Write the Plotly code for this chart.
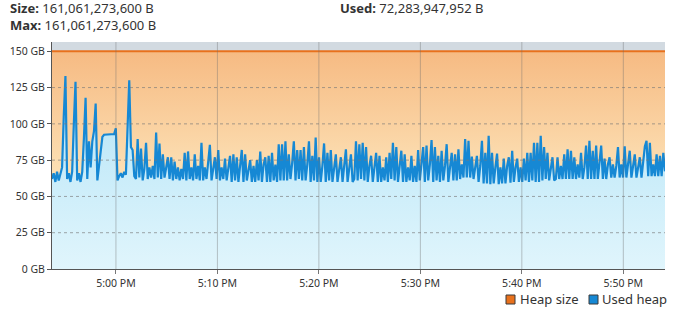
import pandas as pd
import plotly.graph_objects as go

# ---------------- data ----------------
SAMPLE_START = "2024-01-01 16:53:42"
SAMPLE_STEP_S = 9.93

used_heap_gb = [
    62, 66, 60, 67, 61, 66, 70, 105, 133, 62,
    66, 60, 67, 100, 129, 61, 66, 60, 67, 90,
    118, 62, 88, 70, 88, 95, 114, 61, 72, 84,
    91, 92.5, 92.5, 92.5, 92.6, 92.8, 93, 93, 97, 61,
    64, 66, 63, 67, 65, 105, 130, 84, 82, 64,
    62, 89.5, 63, 83, 61, 69, 87, 62, 70, 63,
    71, 62, 94, 63, 86.5, 62, 79, 63, 70, 77,
    62, 77, 61, 74, 62, 70, 61, 69, 62, 80,
    61, 81, 62, 70, 61, 79, 62, 71, 61, 87,
    61, 70, 62, 72, 85.6, 61, 70, 77, 62, 82,
    61, 70, 62, 76, 61, 71, 78, 60, 79, 61,
    77, 60, 71, 82, 60, 79, 61, 70, 75, 60,
    71, 60, 75, 61, 81, 60, 72, 77, 60, 78,
    60, 80, 61, 72, 60, 86, 61, 86, 61, 88,
    61, 79, 62, 73, 88, 61, 82, 62, 82, 61,
    84, 61, 72, 88, 60, 78, 61, 90.6, 60, 77,
    60, 71, 86.5, 60, 80, 61, 82, 60, 71, 79,
    60, 70, 77, 60, 72, 82.5, 60, 71, 79, 60,
    62, 88, 61, 86, 62, 87, 61, 84, 60, 71,
    78, 60, 71, 80, 60, 78, 60, 70, 61, 77,
    60, 80, 62, 87, 61, 84, 60, 72, 81.5, 60,
    79, 60, 70, 61, 78, 60, 71, 60, 82, 61,
    72, 84, 60, 85, 61, 72, 88.8, 60, 84, 61,
    78, 60, 81.5, 61, 71, 86, 60, 72, 80, 61,
    79, 61, 82.5, 62, 72, 63, 89.5, 63, 88.4, 63,
    77.5, 62, 72, 78, 60, 71, 88.4, 59, 80, 59,
    91.8, 58.5, 80, 59, 70, 79.5, 58.5, 70, 59, 76,
    59, 71, 77, 59.5, 81.5, 60, 70, 76, 60, 70,
    60, 76, 61, 80, 60, 80, 61, 87, 60, 87,
    60, 91.8, 61, 84, 62, 80, 61, 71, 77, 61,
    62, 77, 62, 71, 62, 79, 62, 82.5, 62, 81.5,
    62, 77, 62, 72, 63, 80, 62, 70, 85, 62,
    88.4, 62, 81.5, 62, 85, 62, 72, 85, 62, 76,
    62, 72, 77, 63, 72, 63, 71, 84, 63, 72,
    63, 84.5, 63, 72, 81.5, 63, 72, 79, 63, 71,
    77, 63, 72, 84.5, 88.4, 64, 87, 64, 72, 64,
    79, 64, 78, 64, 80, 67.3,
]
heap_size_value_gb = 150

header_size = "161,061,273,600 B"
header_max = "161,061,273,600 B"
header_used = "72,283,947,952 B"

y_tick_values = [0, 25, 50, 75, 100, 125, 150]
y_tick_labels = ["0 GB", "25 GB", "50 GB", "75 GB", "100 GB", "125 GB", "150 GB"]
x_tick_values = ["2024-01-01 17:00", "2024-01-01 17:10", "2024-01-01 17:20",
                 "2024-01-01 17:30", "2024-01-01 17:40", "2024-01-01 17:50"]
x_tick_labels = ["5:00 PM", "5:10 PM", "5:20 PM", "5:30 PM", "5:40 PM", "5:50 PM"]
legend_names = ["Heap size", "Used heap"]

# ---------------- figure ----------------
times = pd.date_range(SAMPLE_START, periods=len(used_heap_gb),
                      freq=pd.Timedelta(seconds=SAMPLE_STEP_S))
heap_size_gb = [heap_size_value_gb] * len(times)

W, H = 685, 314
ML, MR, MT, MB = 52, 20, 42, 45
PW, PH = W - ML - MR, H - MT - MB


def px(x):
    return (x - ML) / PW


def py(y):
    return (H - MB - y) / PH


FONT = "Noto Sans"
ORANGE = "#E8711C"
BLUE = "#1688D4"

fig = go.Figure()
fig.add_trace(go.Scatter(
    x=times, y=heap_size_gb, mode="lines", name=legend_names[0],
    line=dict(color=ORANGE, width=2), fill="tozeroy",
    fillgradient=dict(type="vertical", start=0, stop=150,
                      colorscale=[[0, "#FDEBCB"], [0.45, "#FCDFB3"], [1, "#F6BA82"]]),
    showlegend=False, hoverinfo="skip"))
fig.add_trace(go.Scatter(
    x=times, y=used_heap_gb, mode="lines", name=legend_names[1],
    line=dict(color=BLUE, width=2.2), fill="tozeroy",
    fillgradient=dict(type="vertical", start=0, stop=100,
                      colorscale=[[0, "#E0F5FC"], [1, "#BEE8F8"]]),
    showlegend=False, hoverinfo="skip"))

shapes = []
for xv in x_tick_values:
    shapes.append(dict(type="line", xref="x", yref="paper", x0=xv, x1=xv, y0=0, y1=1,
                       line=dict(color="rgba(110,110,110,0.40)", width=1), layer="above"))
for yv in y_tick_values[1:-1]:
    shapes.append(dict(type="line", xref="paper", yref="y", x0=0, x1=1, y0=yv, y1=yv,
                       line=dict(color="rgba(120,120,120,0.65)", width=1, dash="dot"),
                       layer="above"))

# legend squares
for (x0, col) in [(506, ORANGE), (589, BLUE)]:
    shapes.append(dict(type="rect", xref="paper", yref="paper",
                       x0=px(x0), x1=px(x0 + 9), y0=py(295), y1=py(304),
                       fillcolor=col, line=dict(color="#3A3A3A", width=1)))

annotations = [
    dict(text="<b>Size:</b> " + header_size, x=px(8), y=py(8), xref="paper", yref="paper",
         xanchor="left", yanchor="middle", showarrow=False,
         font=dict(family=FONT, size=13, color="#333333")),
    dict(text="<b>Max:</b> " + header_max, x=px(8), y=py(25), xref="paper", yref="paper",
         xanchor="left", yanchor="middle", showarrow=False,
         font=dict(family=FONT, size=13, color="#333333")),
    dict(text="<b>Used:</b> " + header_used, x=px(338), y=py(8), xref="paper", yref="paper",
         xanchor="left", yanchor="middle", showarrow=False,
         font=dict(family=FONT, size=13, color="#333333")),
    dict(text=legend_names[0], x=px(518), y=py(299), xref="paper", yref="paper",
         xanchor="left", yanchor="middle", showarrow=False,
         font=dict(family=FONT, size=13, color="#333333")),
    dict(text=legend_names[1], x=px(600), y=py(299), xref="paper", yref="paper",
         xanchor="left", yanchor="middle", showarrow=False,
         font=dict(family=FONT, size=13, color="#333333")),
]

fig.update_layout(
    width=W, height=H, margin=dict(l=ML, r=MR, t=MT, b=MB, autoexpand=False),
    paper_bgcolor="white", plot_bgcolor="#D2DAE1",
    font=dict(family=FONT, size=11, color="#333333"),
    shapes=shapes, annotations=annotations, showlegend=False,
    xaxis=dict(range=[times[0], times[-1]], tickvals=x_tick_values, ticktext=x_tick_labels,
               showgrid=False, zeroline=False, showline=True, linecolor="#555555",
               linewidth=1, ticks="outside", ticklen=4, tickcolor="#777777",
               automargin=False,
               tickfont=dict(family=FONT, size=10.5, color="#333333")),
    yaxis=dict(range=[0, 156.4], tickvals=y_tick_values, ticktext=y_tick_labels,
               showgrid=False, zeroline=False, showline=True, linecolor="#555555",
               linewidth=1, ticks="outside", ticklen=4, tickcolor="#555555",
               automargin=False,
               tickfont=dict(family=FONT, size=10.5, color="#333333")),
)

fig.write_html("out.html", config={"displayModeBar": False},
               post_script="document.body.style.margin='0';document.body.style.overflow='hidden';")
